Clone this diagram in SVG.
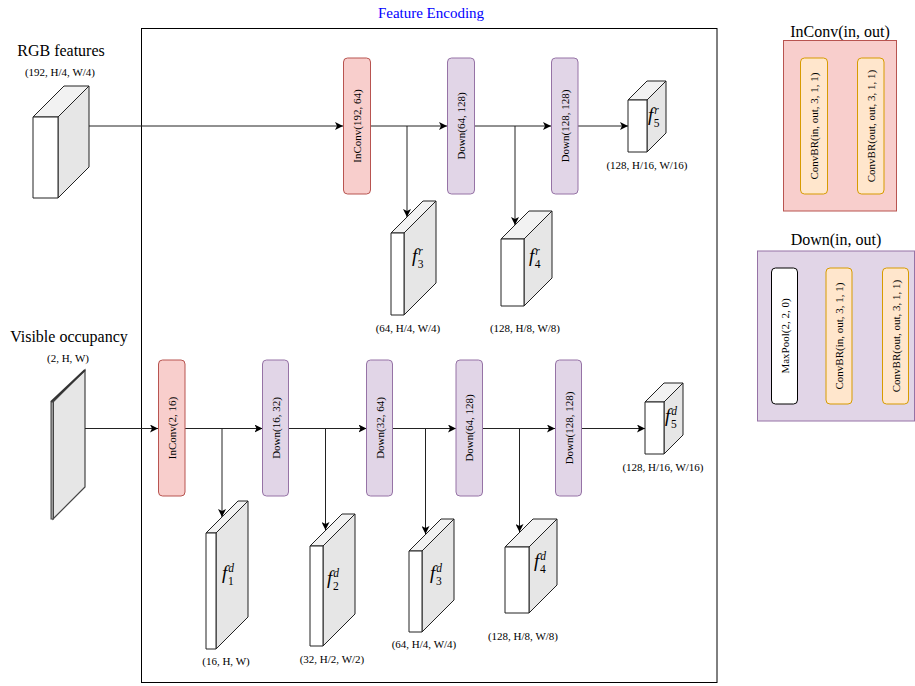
<svg xmlns="http://www.w3.org/2000/svg" width="915" height="686" viewBox="0 0 915 686">
<defs>
<marker id="arr" markerUnits="userSpaceOnUse" markerWidth="8" markerHeight="8" refX="8" refY="4" orient="auto">
<path d="M0,0 L8,4 L0,8 L2,4 z" fill="#000"/>
</marker>
<style>
text{font-family:"Liberation Serif","Times New Roman",serif;fill:#000}
.t16{font-size:16px}
.t11{font-size:11px}
.blue{fill:#0000ff;font-size:15px}
.inconv{fill:#f8cecc;stroke:#b85450;stroke-width:1}
.down{fill:#e1d5e7;stroke:#9673a6;stroke-width:1}
.convbr{fill:#ffe6cc;stroke:#d79b00;stroke-width:1}
.pool{fill:#fff;stroke:#000;stroke-width:1}
.front{fill:#fff;stroke:#222;stroke-width:1;stroke-linejoin:round}
.top{fill:#f2f2f2;stroke:#222;stroke-width:1;stroke-linejoin:round}
.side{fill:#e6e6e6;stroke:#222;stroke-width:1;stroke-linejoin:round}
.fl{font-size:19px;font-style:italic}
.sup{font-size:11.5px;font-style:italic}
.sub{font-size:11.5px;font-style:normal}
.ca{stroke:#222;stroke-width:1;fill:none;marker-end:url(#arr)}
</style>
</defs>

<rect id="frame" x="141.5" y="28.5" width="575.5" height="654" fill="none" stroke="#000" stroke-width="1"/>
<text id="title" class="blue" x="431" y="18" text-anchor="middle">Feature Encoding</text>

<!-- RGB input -->
<g id="rgb">
<text class="t16" x="61" y="56" text-anchor="middle">RGB features</text>
<text class="t11" x="60" y="76" text-anchor="middle">(192, H/4, W/4)</text>
<polygon class="top" points="33,117 58,117 89,86 64,86"/>
<polygon class="side" points="58,117 89,86 89,167 58,198"/>
<rect class="front" x="33" y="117" width="25" height="81"/>
</g>

<!-- Visible occupancy input -->
<g id="occ">
<text class="t16" x="69" y="342" text-anchor="middle">Visible occupancy</text>
<text class="t11" x="68" y="362" text-anchor="middle">(2, H, W)</text>
<polygon points="53,402 85,370 85,487 53,519" fill="#e6e6e6" stroke="#444" stroke-width="1.2"/>
<line x1="51" y1="402" x2="85" y2="370" stroke="#333" stroke-width="2"/>
<rect x="51" y="402" width="2.5" height="117" fill="#999" stroke="#444" stroke-width="1"/>
</g>

<!-- connectors -->
<g id="connectors">
<line class="ca" x1="89" y1="126" x2="343" y2="126"/>
<line class="ca" x1="370" y1="126" x2="447" y2="126"/>
<line class="ca" x1="474" y1="126" x2="551" y2="126"/>
<line class="ca" x1="578" y1="126" x2="628" y2="126"/>
<line class="ca" x1="407" y1="126" x2="407" y2="217"/>
<line class="ca" x1="515" y1="126" x2="515" y2="225"/>

<line class="ca" x1="85" y1="428.5" x2="158" y2="428.5"/>
<line class="ca" x1="185" y1="428.5" x2="262.5" y2="428.5"/>
<line class="ca" x1="288.5" y1="428.5" x2="366.5" y2="428.5"/>
<line class="ca" x1="392.5" y1="428.5" x2="456" y2="428.5"/>
<line class="ca" x1="482" y1="428.5" x2="555" y2="428.5"/>
<line class="ca" x1="581.5" y1="428.5" x2="645" y2="428.5"/>
<line class="ca" x1="222" y1="428.5" x2="222" y2="517"/>
<line class="ca" x1="325.5" y1="428.5" x2="325.5" y2="530"/>
<line class="ca" x1="425.5" y1="428.5" x2="425.5" y2="534"/>
<line class="ca" x1="519.5" y1="428.5" x2="519.5" y2="532"/>

<line class="ca" x1="827.5" y1="126" x2="857.5" y2="126"/>
<line class="ca" x1="797.5" y1="336.5" x2="826" y2="336.5"/>
<line class="ca" x1="852" y1="336.5" x2="882.5" y2="336.5"/>
</g>

<!-- top row blocks -->
<g id="inconv_192_64">
<rect class="inconv" x="343.5" y="58" width="27" height="136" rx="4"/>
<text class="t11" transform="translate(357,126) rotate(-90)" text-anchor="middle" dy="4">InConv(192, 64)</text>
</g>
<g id="down_64_128_r">
<rect class="down" x="447.5" y="58" width="27" height="136" rx="4"/>
<text class="t11" transform="translate(461,126) rotate(-90)" text-anchor="middle" dy="4">Down(64, 128)</text>
</g>
<g id="down_128_128_r">
<rect class="down" x="551.5" y="58" width="26.5" height="136" rx="4"/>
<text class="t11" transform="translate(564.7,126) rotate(-90)" text-anchor="middle" dy="4">Down(128, 128)</text>
</g>

<!-- bottom row blocks -->
<g id="inconv_2_16">
<rect class="inconv" x="158.5" y="360" width="26.5" height="136" rx="4"/>
<text class="t11" transform="translate(171.7,428) rotate(-90)" text-anchor="middle" dy="4">InConv(2, 16)</text>
</g>
<g id="down_16_32">
<rect class="down" x="262.5" y="360" width="26" height="136" rx="4"/>
<text class="t11" transform="translate(275.5,428) rotate(-90)" text-anchor="middle" dy="4">Down(16, 32)</text>
</g>
<g id="down_32_64">
<rect class="down" x="366.5" y="360" width="26" height="136" rx="4"/>
<text class="t11" transform="translate(379.5,428) rotate(-90)" text-anchor="middle" dy="4">Down(32, 64)</text>
</g>
<g id="down_64_128_d">
<rect class="down" x="456" y="360" width="26.5" height="136" rx="4"/>
<text class="t11" transform="translate(469.2,428) rotate(-90)" text-anchor="middle" dy="4">Down(64, 128)</text>
</g>
<g id="down_128_128_d">
<rect class="down" x="555.5" y="360" width="26" height="136" rx="4"/>
<text class="t11" transform="translate(568.5,428) rotate(-90)" text-anchor="middle" dy="4">Down(128, 128)</text>
</g>

<!-- feature cubes, RGB branch -->
<g id="f3r">
<polygon class="top" points="391,233 404,233 436,201 423,201"/>
<polygon class="side" points="404,233 436,201 436,283 404,315"/>
<rect class="front" x="391" y="233" width="13" height="82"/>
<text x="412" y="262"><tspan class="fl">f</tspan><tspan class="sup" dx="1" dy="-7">r</tspan><tspan class="sub" dx="-5" dy="13">3</tspan></text>
<text class="t11" x="408" y="332" text-anchor="middle">(64, H/4, W/4)</text>
</g>
<g id="f4r">
<polygon class="top" points="501,239 524,239 552,211 529,211"/>
<polygon class="side" points="524,239 552,211 552,278 524,306"/>
<rect class="front" x="501" y="239" width="23" height="67"/>
<text x="529" y="262"><tspan class="fl">f</tspan><tspan class="sup" dx="1" dy="-7">r</tspan><tspan class="sub" dx="-5" dy="13">4</tspan></text>
<text class="t11" x="525" y="332" text-anchor="middle">(128, H/8, W/8)</text>
</g>
<g id="f5r">
<polygon class="top" points="628,100 647,100 666,81 647,81"/>
<polygon class="side" points="647,100 666,81 666,133 647,152"/>
<rect class="front" x="628" y="100" width="19" height="52"/>
<text x="648" y="121"><tspan class="fl">f</tspan><tspan class="sup" dx="1" dy="-7">r</tspan><tspan class="sub" dx="-5" dy="13">5</tspan></text>
<text class="t11" x="647" y="169" text-anchor="middle">(128, H/16, W/16)</text>
</g>

<!-- feature cubes, depth branch -->
<g id="f1d">
<polygon class="top" points="206,533 216,533 248,501 238,501"/>
<polygon class="side" points="216,533 248,501 248,617 216,649"/>
<rect class="front" x="206" y="533" width="10" height="116"/>
<text x="222" y="579"><tspan class="fl">f</tspan><tspan class="sup" dx="1" dy="-7">d</tspan><tspan class="sub" dx="-6" dy="13">1</tspan></text>
<text class="t11" x="226" y="665" text-anchor="middle">(16, H, W)</text>
</g>
<g id="f2d">
<polygon class="top" points="310,546 323,546 355,514 342,514"/>
<polygon class="side" points="323,546 355,514 355,614 323,646"/>
<rect class="front" x="310" y="546" width="13" height="100"/>
<text x="327" y="584"><tspan class="fl">f</tspan><tspan class="sup" dx="1" dy="-7">d</tspan><tspan class="sub" dx="-6" dy="13">2</tspan></text>
<text class="t11" x="332" y="663" text-anchor="middle">(32, H/2, W/2)</text>
</g>
<g id="f3d">
<polygon class="top" points="409,551 422,551 454,519 441,519"/>
<polygon class="side" points="422,551 454,519 454,600 422,632"/>
<rect class="front" x="409" y="551" width="13" height="81"/>
<text x="430" y="579"><tspan class="fl">f</tspan><tspan class="sup" dx="1" dy="-7">d</tspan><tspan class="sub" dx="-6" dy="13">3</tspan></text>
<text class="t11" x="424" y="648" text-anchor="middle">(64, H/4, W/4)</text>
</g>
<g id="f4d">
<polygon class="top" points="505,547 529,547 557,519 533,519"/>
<polygon class="side" points="529,547 557,519 557,585 529,613"/>
<rect class="front" x="505" y="547" width="24" height="66"/>
<text x="534" y="567"><tspan class="fl">f</tspan><tspan class="sup" dx="1" dy="-7">d</tspan><tspan class="sub" dx="-6" dy="13">4</tspan></text>
<text class="t11" x="523" y="640" text-anchor="middle">(128, H/8, W/8)</text>
</g>
<g id="f5d">
<polygon class="top" points="645,402 664,402 683,383 664,383"/>
<polygon class="side" points="664,402 683,383 683,435 664,454"/>
<rect class="front" x="645" y="402" width="19" height="52"/>
<text x="665" y="422"><tspan class="fl">f</tspan><tspan class="sup" dx="1" dy="-7">d</tspan><tspan class="sub" dx="-6" dy="13">5</tspan></text>
<text class="t11" x="663" y="471" text-anchor="middle">(128, H/16, W/16)</text>
</g>

<!-- InConv definition -->
<g id="inconv_def">
<text class="t16" x="840" y="37" text-anchor="middle">InConv(in, out)</text>
<rect class="inconv" x="783.5" y="40.5" width="113" height="170.5"/>
<rect class="convbr" x="800.5" y="58" width="27" height="136" rx="4"/>
<text class="t11" transform="translate(814,126) rotate(-90)" text-anchor="middle" dy="4">ConvBR(in, out, 3, 1, 1)</text>
<rect class="convbr" x="857.5" y="58" width="26.5" height="136" rx="4"/>
<text class="t11" transform="translate(870.7,126) rotate(-90)" text-anchor="middle" dy="4">ConvBR(out, out, 3, 1, 1)</text>
</g>

<!-- Down definition -->
<g id="down_def">
<text class="t16" x="836" y="245" text-anchor="middle">Down(in, out)</text>
<rect class="down" x="757.5" y="251" width="157" height="170"/>
<rect class="pool" x="771.5" y="268" width="26" height="136" rx="4"/>
<text class="t11" transform="translate(784.5,336) rotate(-90)" text-anchor="middle" dy="4">MaxPool(2, 2, 0)</text>
<rect class="convbr" x="826" y="268" width="26" height="136" rx="4"/>
<text class="t11" transform="translate(839,336) rotate(-90)" text-anchor="middle" dy="4">ConvBR(in, out, 3, 1, 1)</text>
<rect class="convbr" x="882.5" y="268" width="26" height="136" rx="4"/>
<text class="t11" transform="translate(895.5,336) rotate(-90)" text-anchor="middle" dy="4">ConvBR(out, out, 3, 1, 1)</text>
</g>
</svg>
